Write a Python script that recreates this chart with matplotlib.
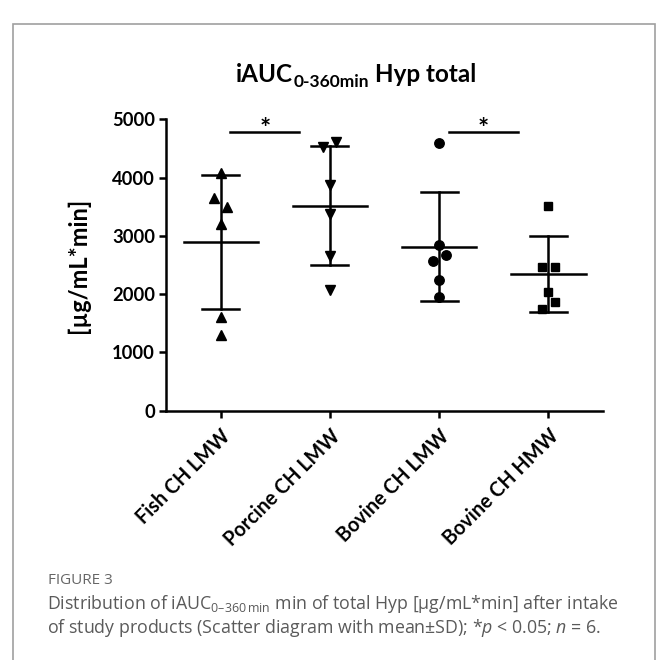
"""iAUC 0-360 min of total Hyp, scatter with mean +- SD per product."""
import numpy as np
import matplotlib
matplotlib.use("Agg")
import matplotlib.pyplot as plt
from matplotlib.patches import Rectangle

plt.rcParams["mathtext.fontset"] = "custom"
plt.rcParams["mathtext.rm"] = "Open Sans"
plt.rcParams["mathtext.it"] = "Open Sans:italic"

# ── Data (µg/mL*min) ─────────────────────────────────────────────────────
categories = ["Fish CH LMW", "Porcine CH LMW", "Bovine CH LMW", "Bovine CH HMW"]
fish = [4074, 3644, 3500, 3201, 1606, 1303]
porcine = [4521, 4607, 3873, 3368, 2650, 2065]
bovine_lmw = [4601, 2840, 2673, 2570, 2250, 1950]
bovine_hmw = [3517, 2473, 2473, 2037, 1865, 1738]
groups = [fish, porcine, bovine_lmw, bovine_hmw]
sig_pairs = [(0, 1), (2, 3)]
yticks = [0, 1000, 2000, 3000, 4000, 5000]

# styling only
markers = ["^", "v", "o", "s"]
marker_sizes = [7, 7, 6.8, 6.0]
jitter = [
    [0, -0.06, 0.06, 0, 0, 0],
    [-0.06, 0.06, 0, 0, 0, 0],
    [0, 0, 0.06, -0.06, 0, 0],
    [0, -0.06, 0.06, 0, 0.06, -0.06],
]

W, H = 657, 660
fig = plt.figure(figsize=(W / 100, H / 100), dpi=100)
ax = fig.add_axes([0.2527, 0.3777, 0.6651, 0.4415])

lw = 1.8
for i, vals in enumerate(groups):
    vals = np.array(vals, dtype=float)
    xs = i + np.array(jitter[i])
    ax.plot(xs, vals, linestyle="none", marker=markers[i], ms=marker_sizes[i],
            color="black", zorder=3)
    m = vals.mean()
    sd = vals.std(ddof=1)
    ax.plot([i - 0.34, i + 0.34], [m, m], color="black", lw=lw, zorder=2)
    ax.plot([i, i], [m - sd, m + sd], color="black", lw=lw, zorder=2)
    for cap in (m - sd, m + sd):
        ax.plot([i - 0.17, i + 0.17], [cap, cap], color="black", lw=lw, zorder=2)

# significance bars
for a, b in sig_pairs:
    x0, x1 = a + 0.09, b - 0.28
    ax.plot([x0, x1], [4780, 4780], color="black", lw=lw, clip_on=False)
    ax.text((x0 + x1) / 2, 4620, "*", ha="center", va="bottom",
            fontsize=19, fontweight="bold", family="Lato")

ax.set_xlim(-0.5, 3.5)
ax.set_ylim(0, 5000)
ax.set_yticks(yticks)
ax.set_xticks(range(len(categories)))
ax.set_xticklabels(categories, rotation=45, ha="right", rotation_mode="anchor")
for lab in ax.get_xticklabels():
    lab.set_family("Lato")
    lab.set_fontweight("bold")
    lab.set_fontsize(14.2)
for lab in ax.get_yticklabels():
    lab.set_family("Lato")
    lab.set_fontweight("bold")
    lab.set_fontsize(13.2)
ax.tick_params(axis="both", width=lw, length=5, direction="out", color="black")
ax.tick_params(axis="y", pad=3)
ax.tick_params(axis="x", pad=6)
for side in ("top", "right"):
    ax.spines[side].set_visible(False)
for side in ("left", "bottom"):
    ax.spines[side].set_linewidth(lw)
ax.set_ylabel("[µg/mL*min]", family="Lato", fontweight="bold", fontsize=17, labelpad=16)

# title built from pieces so the subscript keeps a plain hyphen
title_parts = [("iAUC", 17.5, 0), ("0-360min", 12.5, -5), (" Hyp total", 17.5, 0)]
fig.canvas.draw()
renderer = fig.canvas.get_renderer()
texts = []
for s, size, dy in title_parts:
    t = fig.text(0, 0, s, family="Lato", fontweight="bold", fontsize=size, va="baseline")
    texts.append((t, dy))
widths = [t.get_window_extent(renderer).width for t, _ in texts]
x = 356 - sum(widths) / 2
base = H - 82
for (t, dy), w in zip(texts, widths):
    t.set_position((x / W, (base + dy) / H))
    x += w

# caption
cap_color = "#5a5a5a"
fig.text(48 / W, 1 - 584 / H, "FIGURE 3", family="Open Sans", fontsize=11,
         color="#666666", va="baseline")
fig.text(47 / W, 1 - 609 / H,
         "Distribution of iAUC$_{\\mathregular{0\u2013360\\,min}}$ min of total Hyp "
         "[µg/mL*min] after intake",
         family="Open Sans", fontsize=12.8, color=cap_color, va="baseline")
fig.text(47 / W, 1 - 633 / H,
         "of study products (Scatter diagram with mean\u00b1SD); *$p$ < 0.05; $n$ = 6.",
         family="Open Sans", fontsize=12.8, color=cap_color, va="baseline")

# outer frame of the figure panel
fig.patches.append(Rectangle((13 / W, -0.05), 642 / W, 1 - 24 / H + 0.05,
                             transform=fig.transFigure, fill=False,
                             edgecolor="#a0a0a0", lw=1.2))

fig.savefig("out.png", dpi=100)
